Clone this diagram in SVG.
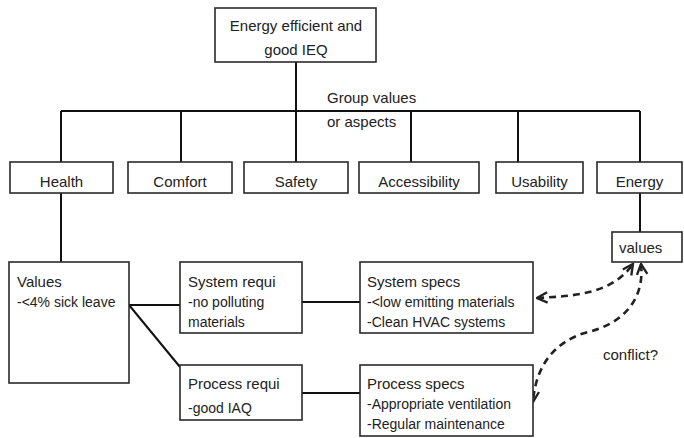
<svg xmlns="http://www.w3.org/2000/svg" width="684" height="438" viewBox="0 0 684 438">
<defs>
<style>
.box{fill:#fff;stroke:#2a2a2a;stroke-width:1.6}
.ln{stroke:#111;stroke-width:2;fill:none}
.dash{stroke:#222;stroke-width:2.6;fill:none;stroke-dasharray:7 5}
text{font-family:"Liberation Sans",Arial,sans-serif;fill:#222}
.t{font-size:15px}
.s{font-size:14px}
.c{text-anchor:middle}
</style>
<marker id="ah" viewBox="0 0 10 10" refX="9" refY="5" markerWidth="5" markerHeight="5" orient="auto-start-reverse" markerUnits="strokeWidth">
<path d="M1 1 L9 5 L1 9" fill="none" stroke="#222" stroke-width="1.8"/>
</marker>
</defs>
<rect width="684" height="438" fill="#fff"/>
<g id="connectors">
<line class="ln" x1="296" y1="62" x2="296" y2="162"/>
<line class="ln" x1="61" y1="111" x2="640" y2="111"/>
<line class="ln" x1="61" y1="111" x2="61" y2="162"/>
<line class="ln" x1="181" y1="111" x2="181" y2="162"/>
<line class="ln" x1="411" y1="111" x2="411" y2="162"/>
<line class="ln" x1="518" y1="111" x2="518" y2="162"/>
<line class="ln" x1="640" y1="111" x2="640" y2="162"/>
<line class="ln" x1="61" y1="193" x2="61" y2="262"/>
<line class="ln" x1="640" y1="193" x2="640" y2="232"/>
<line class="ln" x1="129" y1="305" x2="180" y2="305"/>
<line class="ln" x1="129" y1="305" x2="180" y2="367"/>
<line class="ln" x1="302" y1="302" x2="360" y2="302"/>
<line class="ln" x1="302" y1="393" x2="360" y2="393"/>
<path class="dash" d="M537 298 C575 296 612 294 633 264" marker-start="url(#ah)" marker-end="url(#ah)"/>
<path class="dash" d="M641 264 C645 300 622 324 588 332 C558 340 536 362 533 402" marker-start="url(#ah)" marker-end="url(#ah)"/>
</g>
<g id="root"><rect class="box" x="215" y="8" width="161" height="54"/>
<text class="t c" x="296" y="31">Energy efficient and</text>
<text class="t c" x="296" y="55">good IEQ</text></g>
<g id="group-label"><text class="t" x="327" y="103">Group values</text>
<text class="t" x="327" y="127">or aspects</text></g>
<g id="health"><rect class="box" x="10" y="162" width="103" height="31"/><text class="t c" x="61.5" y="187">Health</text></g>
<g id="comfort"><rect class="box" x="128" y="162" width="104" height="31"/><text class="t c" x="180" y="187">Comfort</text></g>
<g id="safety"><rect class="box" x="244" y="162" width="104" height="31"/><text class="t c" x="296" y="187">Safety</text></g>
<g id="accessibility"><rect class="box" x="359" y="162" width="120" height="31"/><text class="t c" x="419" y="187">Accessibility</text></g>
<g id="usability"><rect class="box" x="496" y="162" width="87" height="31"/><text class="t c" x="539.5" y="187">Usability</text></g>
<g id="energy"><rect class="box" x="597" y="162" width="85" height="31"/><text class="t c" x="639.5" y="187">Energy</text></g>
<g id="energy-values"><rect class="box" x="612" y="232" width="70" height="30"/><text class="t" x="619" y="253">values</text></g>
<g id="values"><rect class="box" x="9" y="262" width="120" height="121"/>
<text class="t" x="17" y="287">Values</text>
<text class="s" x="17" y="307">-&lt;4% sick leave</text></g>
<g id="system-requi"><rect class="box" x="180" y="262" width="122" height="71"/>
<text class="t" x="188" y="287">System requi</text>
<text class="s" x="188" y="307">-no polluting</text>
<text class="s" x="188" y="327">materials</text></g>
<g id="process-requi"><rect class="box" x="180" y="365" width="122" height="55"/>
<text class="t" x="188" y="389">Process requi</text>
<text class="s" x="188" y="413">-good IAQ</text></g>
<g id="system-specs"><rect class="box" x="360" y="262" width="173" height="71"/>
<text class="t" x="367" y="287">System specs</text>
<text class="s" x="367" y="307">-&lt;low emitting materials</text>
<text class="s" x="367" y="327">-Clean HVAC systems</text></g>
<g id="process-specs"><rect class="box" x="360" y="365" width="173" height="71"/>
<text class="t" x="367" y="389">Process specs</text>
<text class="s" x="367" y="409">-Appropriate ventilation</text>
<text class="s" x="367" y="429">-Regular maintenance</text></g>
<g id="conflict-label"><text class="t" x="603" y="360">conflict?</text></g>
</svg>
